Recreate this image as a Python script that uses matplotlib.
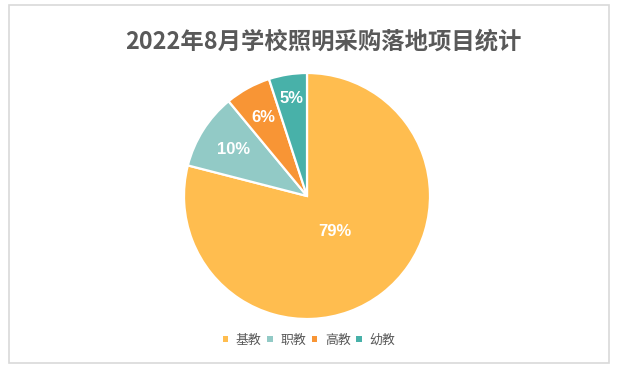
import math
import matplotlib
matplotlib.use("Agg")
import matplotlib.pyplot as plt
from matplotlib.patches import Rectangle, Patch

plt.rcParams['font.family'] = ['Noto Sans CJK SC', 'DejaVu Sans']

title = "2022年8月学校照明采购落地项目统计"
labels = ["基教", "职教", "高教", "幼教"]
values = [79, 10, 6, 5]
colors = ["#FFBD4F", "#92CAC6", "#F89535", "#48B1A9"]
# distance of each percent label from the centre (radius units)
label_dist = [0.37, 0.71, 0.73, 0.80]

W, H = 617, 370
fig = plt.figure(figsize=(W / 100, H / 100), dpi=100)

# chart frame
fig.patches.append(Rectangle((9 / W, 1 - 363 / H), 600 / W, 358 / H,
                             transform=fig.transFigure, fill=False,
                             edgecolor="#D9D9D9", linewidth=1.2))

fig.text(323.5 / W, 1 - 41 / H, title, ha="center", va="center",
         fontsize=16.8, fontweight="bold", color="#595959")

cx, cy, r = 307, 196, 123
ax = fig.add_axes([(cx - r) / W, (H - cy - r) / H, 2 * r / W, 2 * r / H])
wedges, _ = ax.pie(values, colors=colors, startangle=90, counterclock=False,
                   wedgeprops=dict(edgecolor="white", linewidth=1.6))
ax.set_xlim(-1, 1)
ax.set_ylim(-1, 1)
ax.set_aspect("equal")
ax.axis("off")

total = sum(values)
start = 90.0
for v, d in zip(values, label_dist):
    span = 360.0 * v / total
    mid = math.radians(start - span / 2)
    ax.text(d * math.cos(mid), d * math.sin(mid), f"{v}%", ha="center",
            va="center", color="white", fontsize=12, fontweight="bold",
            family=["Liberation Sans", "DejaVu Sans"])
    start -= span

handles = [Patch(facecolor=c, edgecolor="none") for c in colors]
fig.legend(handles, labels, loc="center", bbox_to_anchor=(309 / W, 1 - 340 / H),
           ncol=4, frameon=False, fontsize=9.3, labelcolor="#595959",
           handlelength=0.4, handleheight=0.4, handletextpad=0.6,
           columnspacing=0.45)

fig.savefig("out.png", dpi=100, facecolor="white")
